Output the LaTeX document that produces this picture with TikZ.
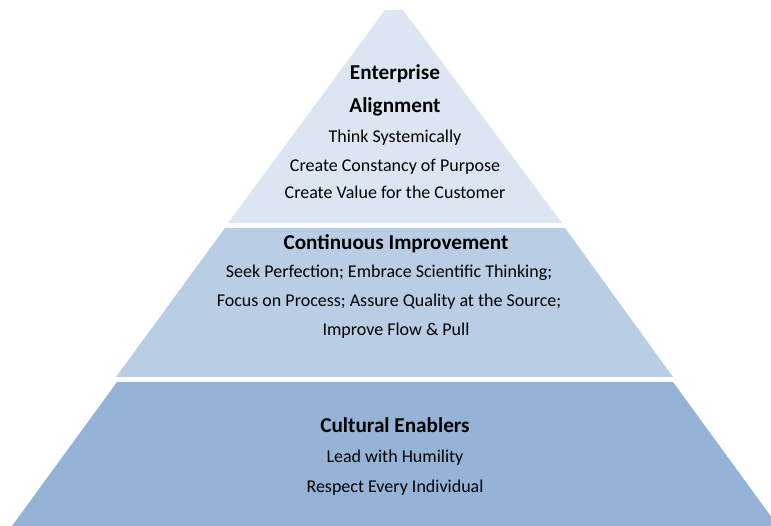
\documentclass[tikz,border=0pt]{standalone}
\usepackage{fontspec}
\setmainfont{Carlito}
\usepackage{tikz}
\definecolor{toplayer}{HTML}{DCE6F2}
\definecolor{midlayer}{HTML}{B9CDE5}
\definecolor{baselayer}{HTML}{95B3D7}

\begin{document}
\begin{tikzpicture}[x=1pt,y=-1pt,
	head/.style={anchor=base,font=\fontsize{21.2}{25}\selectfont\bfseries},
	item/.style={anchor=base,font=\fontsize{18}{22}\selectfont}]
	\useasboundingbox (0,0) rectangle (771,526);
	\clip (0,0) rectangle (771,526);
	% layers
	\fill[toplayer] (385,10) -- (403,10) -- (562,223) -- (228,223) -- cycle;
	\fill[midlayer] (225,228) -- (565,228) -- (673,377) -- (116,377) -- cycle;
	\fill[baselayer] (117,382) -- (673,382) -- (778,526) -- (12,526) -- cycle;
	% enterprise alignment
	\node[head] (ent) at (395,80) {Enterprise};
	\node[head] (ali) at (395,113) {Alignment};
	\node[item] (sys) at (395,143) {Think Systemically};
	\node[item] (con) at (395,172) {Create Constancy of Purpose};
	\node[item] (val) at (395,199) {Create Value for the Customer};
	% continuous improvement
	\node[head] (imp) at (396,250) {Continuous Improvement};
	\node[item] (see) at (389,278) {Seek Perfection; Embrace Scientific Thinking;};
	\node[item] (foc) at (389,307) {Focus on Process; Assure Quality at the Source;};
	\node[item] (flo) at (396,336) {Improve Flow \& Pull};
	% cultural enablers
	\node[head] (cul) at (395,432) {Cultural Enablers};
	\node[item] (hum) at (395,462) {Lead with Humility};
	\node[item] (res) at (395,492) {Respect Every Individual};
\end{tikzpicture}
\end{document}
